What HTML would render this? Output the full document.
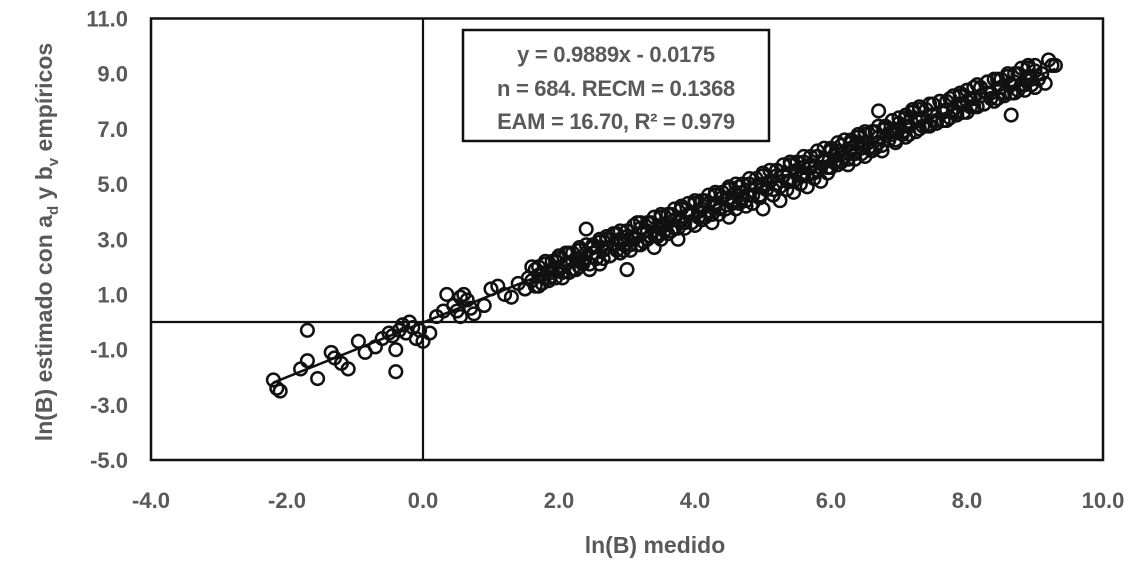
<!DOCTYPE html>
<html><head><meta charset="utf-8"><style>
html,body{margin:0;padding:0;background:#fff;width:1133px;height:565px;overflow:hidden}
svg text{font-family:"Liberation Sans",sans-serif;font-weight:bold;fill:#595959}
</style></head><body>
<svg id="chart" width="1133" height="565" viewBox="0 0 1133 565" xmlns="http://www.w3.org/2000/svg">
<rect x="151" y="18.5" width="952" height="441.5" fill="#fff" stroke="#111" stroke-width="2.5"/>
<g id="ticks"></g>
<g id="marks"></g>
<g>
<rect x="463" y="30" width="306" height="111" fill="#fff" stroke="#111" stroke-width="2.5"/>
<text x="616" y="62" text-anchor="middle" font-size="22" letter-spacing="-0.3">y = 0.9889x - 0.0175</text>
<text x="616" y="96" text-anchor="middle" font-size="22" letter-spacing="-0.3">n = 684. RECM = 0.1368</text>
<text x="616" y="129" text-anchor="middle" font-size="22" letter-spacing="-0.3">EAM = 16.70, R² = 0.979</text>
</g>
<text x="655" y="553" text-anchor="middle" font-size="23">ln(B) medido</text>
<text transform="translate(52,242) rotate(-90)" text-anchor="middle" font-size="23">ln(B) estimado con a<tspan font-size="15" dy="6">d</tspan><tspan dy="-6"> y  b</tspan><tspan font-size="15" dy="6">v</tspan><tspan dy="-6"> empíricos</tspan></text>
</svg>
<script>
const xTicks=[-4,-2,0,2,4,6,8,10];
const yTicks=[-5,-3,-1,1,3,5,7,9,11];
const slope=0.9889, intercept=-0.0175;
const xs=[-2.2,-2.15,-2.1,-1.8,-1.7,-1.7,-1.55,-1.35,-1.3,-1.1,-1.2,-0.95,-0.85,-0.7,-0.6,-0.5,-0.45,-0.4,-0.4,-0.35,-0.3,-0.25,-0.2,-0.15,-0.1,-0.05,0.0,0.1,0.2,0.3,0.35,0.45,0.5,0.55,0.6,0.65,0.7,0.75,0.55,0.9,1.0,1.1,1.2,1.3,1.4,1.5,
1.5,1.55,1.6,1.65,1.7,1.75,1.8,1.85,1.9,1.95,2.0,2.0,2.05,2.1,2.15,2.2,2.25,2.3,2.3,2.35,2.4,2.4,2.45,2.5,2.55,2.6,2.6,2.65,2.7,2.75,2.8,2.85,2.9,2.9,2.95,3.0,3.0,3.05,3.1,3.15,3.2,3.25,3.3,3.35,3.4,3.45,3.5,3.5,3.55,3.6,3.65,3.7,3.75,3.8,3.8,3.85,3.9,3.95,4.0,4.0,4.05,4.1,4.15,4.2,4.25,4.3,4.3,4.35,4.4,4.45,4.5,4.5,4.55,4.6,4.65,4.7,4.75,4.8,4.8,4.85,4.9,4.95,5.0,5.0,5.05,5.1,5.15,5.2,5.2,5.25,5.3,5.35,5.4,5.4,5.45,5.5,5.55,5.6,5.6,5.65,5.7,5.75,5.8,5.8,5.85,5.9,5.95,6.0,6.0,6.05,6.1,6.15,6.2,6.25,6.3,6.3,6.35,6.4,6.45,6.5,6.5,6.55,6.6,6.65,6.7,6.7,6.75,6.8,6.85,6.9,6.9,6.95,7.0,7.05,7.1,7.1,7.15,7.2,7.25,7.3,7.3,7.35,7.4,7.45,7.5,7.55,7.6,7.65,7.7,7.75,7.8,7.85,7.9,7.95,8.0,8.0,8.05,8.1,8.15,8.2,8.25,8.3,8.35,8.4,8.45,8.5,8.55,8.6,8.65,8.65,8.7,8.75,8.8,8.85,8.9,8.95,9.0,9.0,9.1,9.15,9.2,9.25,9.3,
3.0,3.2,4.2,5.0,5.2,6.1,7.0,8.0,3.6,4.6,5.6,2.2,
1.6,1.7,1.8,1.9,2.0,2.1,2.2,2.3,2.4,2.5,2.6,2.7,2.8,2.9,3.0,3.1,3.2,3.3,3.4,3.5,3.6,3.7,3.8,3.9,4.0,4.1,4.2,4.3,4.4,4.5,4.6,4.7,4.8,4.9,5.0,5.1,5.2,5.3,5.4,5.5,5.6,5.7,5.8,5.9,6.0,6.1,6.2,6.3,6.4,6.5,6.6,6.7,6.8,6.9,7.0,7.1,7.2,7.3,7.4,7.5,7.6,7.7,7.8,7.9,8.0,8.1,8.2,8.3,8.4,8.5,8.6,8.7,8.8,8.9,9.0,
1.65,1.75,1.85,1.95,2.05,2.15,2.25,2.35,2.45,2.55,2.65,2.75,2.85,2.95,3.05,3.15,3.25,3.35,3.45,3.55,3.65,3.75,3.85,3.95,4.05,4.15,4.25,4.35,4.45,4.55,4.65,4.75,4.85,4.95,5.05,5.15,5.25,5.35,5.45,5.55,5.65,5.75,5.85,5.95,6.05,6.15,6.25,6.35,6.45,6.55,6.65,6.75,6.85,6.95,7.05,7.15,7.25,7.35,7.45,7.55,7.65,7.75,7.85,7.95,8.05,8.15,8.25,8.35,8.45,8.55,8.65,8.75,8.85,8.95,9.05,
1.7,1.9,2.1,2.3,2.5,2.7,2.9,3.1,3.3,3.5,3.7,3.9,4.1,4.3,4.5,4.7,4.9,5.1,5.3,5.5,5.7,5.9,6.1,6.3,6.5,6.7,6.9,7.1,7.3,7.5,7.7,7.9,8.1,8.3,8.5,8.7,8.9];
const ys=[-2.1,-2.4,-2.5,-1.7,-1.4,-0.3,-2.05,-1.1,-1.3,-1.7,-1.5,-0.7,-1.1,-0.9,-0.6,-0.4,-0.5,-1.0,-1.8,-0.3,-0.1,-0.4,0.0,-0.2,-0.6,-0.3,-0.7,-0.4,0.2,0.4,1.0,0.6,0.4,0.9,1.0,0.8,0.5,0.3,0.2,0.6,1.2,1.3,1.0,0.9,1.4,1.2,
1.2,1.6,1.5,1.9,1.3,1.7,2.1,1.5,1.8,2.2,1.9,2.4,1.6,2.1,2.5,1.9,2.3,2.0,2.6,2.2,3.37,2.5,1.9,2.7,2.3,2.9,2.1,2.6,3.1,2.4,2.8,3.2,2.5,3.0,2.8,3.3,1.9,2.6,3.0,3.6,2.8,3.3,3.0,3.6,2.7,3.2,3.8,3.0,3.5,3.2,3.9,3.4,3.0,3.7,4.2,3.4,3.9,3.6,4.3,3.5,4.0,3.7,4.4,4.0,3.6,4.6,4.2,3.9,4.5,4.1,4.8,3.8,4.4,4.1,4.9,4.5,4.2,5.0,4.6,4.3,4.9,4.5,5.3,4.1,4.8,5.1,4.6,5.5,5.0,4.4,5.3,4.8,5.7,5.1,4.7,5.5,5.0,5.8,5.3,4.9,5.6,5.2,6.0,5.5,5.1,5.8,5.4,6.2,5.6,6.0,5.7,6.4,6.0,5.7,6.5,6.2,5.9,6.7,6.3,6.0,6.8,6.5,6.2,6.9,7.65,6.5,6.2,7.0,6.6,7.3,6.8,6.5,7.2,6.9,7.5,6.7,7.1,7.7,7.3,7.0,7.8,7.4,7.1,7.9,7.5,7.2,8.0,7.6,7.3,8.1,7.7,7.5,8.3,7.9,7.6,8.4,8.1,7.8,8.6,8.2,7.9,8.7,8.3,8.0,8.8,8.5,8.2,8.9,7.5,8.6,8.3,9.0,8.6,8.4,9.2,8.8,8.5,9.3,9.0,8.65,9.5,9.3,9.3,
3.1,3.4,4.3,5.0,5.3,6.2,7.0,8.0,3.6,4.7,5.6,2.2,
2.0,2.0,2.2,2.2,2.3,2.5,2.5,2.7,2.8,2.8,3.0,3.0,3.2,3.3,3.3,3.5,3.6,3.6,3.8,3.9,3.9,4.1,4.1,4.3,4.4,4.4,4.6,4.7,4.7,4.9,5.0,5.0,5.2,5.2,5.4,5.5,5.5,5.7,5.8,5.8,6.0,6.0,6.2,6.3,6.3,6.5,6.6,6.6,6.8,6.9,6.9,7.1,7.1,7.3,7.4,7.4,7.6,7.7,7.7,7.9,8.0,8.0,8.2,8.2,8.4,8.5,8.5,8.7,8.8,8.8,9.0,9.0,9.2,9.3,9.1,
1.3,1.4,1.6,1.6,1.8,1.8,1.9,2.1,2.1,2.3,2.3,2.4,2.6,2.6,2.8,2.8,2.9,3.1,3.1,3.3,3.3,3.4,3.6,3.6,3.8,3.8,3.9,4.1,4.1,4.3,4.3,4.4,4.6,4.6,4.8,4.8,4.9,5.1,5.1,5.3,5.3,5.4,5.6,5.6,5.8,5.8,5.9,6.1,6.1,6.3,6.3,6.4,6.6,6.6,6.8,6.8,6.9,7.1,7.1,7.3,7.3,7.4,7.6,7.6,7.8,7.8,7.9,8.1,8.1,8.3,8.3,8.4,8.6,8.6,8.8,
1.7,1.9,2.1,2.3,2.5,2.7,2.9,3.1,3.3,3.5,3.7,3.9,4.1,4.3,4.5,4.7,4.9,5.1,5.3,5.5,5.7,5.9,6.1,6.3,6.5,6.7,6.9,7.1,7.3,7.5,7.7,7.9,8.1,8.3,8.5,8.7,8.9];
const X0=151,X1=1103,XMIN=-4,XMAX=10,Y0=460,Y1=18.5,YMIN=-5,YMAX=11;
function sx(v){return X0+(v-XMIN)/(XMAX-XMIN)*(X1-X0);}
function sy(v){return Y0-(v-YMIN)/(YMAX-YMIN)*(Y0-Y1);}
const NS="http://www.w3.org/2000/svg";
const tg=document.getElementById('ticks'), mg=document.getElementById('marks');
let ax=document.createElementNS(NS,'line');
ax.setAttribute('x1',sx(0));ax.setAttribute('x2',sx(0));ax.setAttribute('y1',Y1);ax.setAttribute('y2',Y0);
ax.setAttribute('stroke','#111');ax.setAttribute('stroke-width','2.2');


tg.appendChild(ax);
let ay=document.createElementNS(NS,'line');
ay.setAttribute('x1',X0);ay.setAttribute('x2',X1);ay.setAttribute('y1',sy(0));ay.setAttribute('y2',sy(0));
ay.setAttribute('stroke','#111');ay.setAttribute('stroke-width','2.2');


tg.appendChild(ay);
xTicks.forEach(v=>{const t=document.createElementNS(NS,'text');
t.setAttribute('x',sx(v));t.setAttribute('y',508);t.setAttribute('text-anchor','middle');t.setAttribute('font-size','22');
t.textContent=v.toFixed(1);


tg.appendChild(t);});
yTicks.forEach(v=>{const t=document.createElementNS(NS,'text');
t.setAttribute('x',128);t.setAttribute('y',sy(v)+8);t.setAttribute('text-anchor','end');t.setAttribute('font-size','22');
t.textContent=v.toFixed(1);


tg.appendChild(t);});
const lx0=-2.2, lx1=9.3;
let tl=document.createElementNS(NS,'line');
tl.setAttribute('x1',sx(lx0));tl.setAttribute('y1',sy(slope*lx0+intercept));
tl.setAttribute('x2',sx(lx1));tl.setAttribute('y2',sy(slope*lx1+intercept));
tl.setAttribute('stroke','#111');tl.setAttribute('stroke-width','2.5');


mg.appendChild(tl);
for(let i=0;i<xs.length;i++){const c=document.createElementNS(NS,'circle');
c.setAttribute('cx',sx(xs[i]));c.setAttribute('cy',sy(ys[i]));c.setAttribute('r','6.3');
c.setAttribute('fill','none');c.setAttribute('stroke','#111');c.setAttribute('stroke-width','2.5');


mg.appendChild(c);}
</script>
</body></html>
